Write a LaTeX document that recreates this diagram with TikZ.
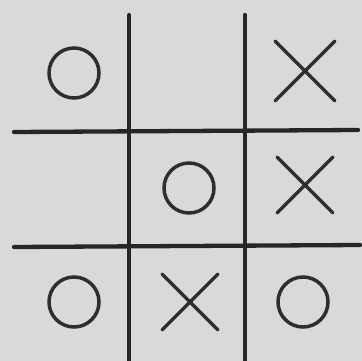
\documentclass[tikz,border=0pt]{standalone}
\begin{document}
\begin{tikzpicture}[x=1pt,y=-1pt,line cap=round]
			\tikzset{gridline/.style={line width=4.3pt,black!85},
				markline/.style={line width=3.5pt,black!82}}
			\fill[gray!30] (0,0) rectangle (362,361);
			\useasboundingbox (0,0) rectangle (362,361);
			% grid
			\draw[gridline] (129,15)--(129,361);
			\draw[gridline] (245,15)--(245,361);
			\draw[gridline] (14,132)--(358,130);
			\draw[gridline] (14,247)--(360,245);
			% noughts
			\foreach \cx/\cy in {74/73,189/188,74/302,303/302}
				\draw[markline] (\cx,\cy) circle (25);
			% crosses
			\foreach \cx/\cy/\r in {305/71/30,305/185/28,190/302/28}
			{
				\draw[markline] (\cx-\r,\cy-\r)--(\cx+\r,\cy+\r);
				\draw[markline] (\cx+\r,\cy-\r)--(\cx-\r,\cy+\r);
			}
		\end{tikzpicture}
\end{document}
